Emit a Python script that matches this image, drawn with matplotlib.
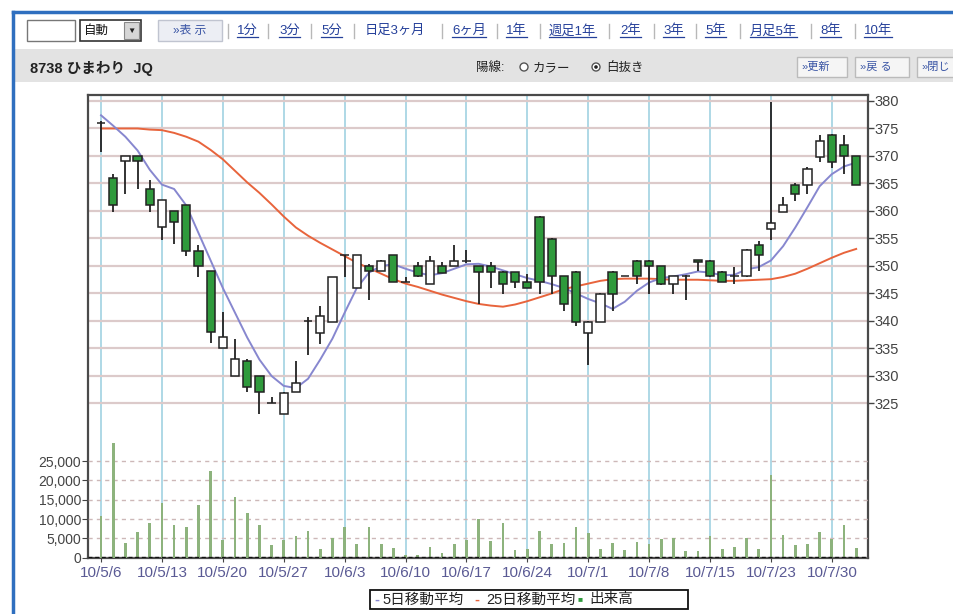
import matplotlib
matplotlib.use("Agg")
import matplotlib.pyplot as plt
from matplotlib.patches import Rectangle, Circle
from matplotlib.ticker import FuncFormatter
import numpy as np

plt.rcParams["font.family"] = ["Liberation Sans", "Noto Sans CJK JP", "DejaVu Sans"]
NARROW = ["Liberation Sans Narrow", "Liberation Sans", "DejaVu Sans"]

# x tick labels, one every 5 trading days
date_labels = ["10/5/6", "10/5/13", "10/5/20", "10/5/27", "10/6/3", "10/6/10", "10/6/17",
               "10/6/24", "10/7/1", "10/7/8", "10/7/15", "10/7/23", "10/7/30"]

# daily candles (8738 ひまわり)
opens = [376, 366, 369, 370, 364, 357, 360, 361, 352.8, 349, 335, 330, 332.8, 330, 325, 323.1,
         327, 340, 337.9, 339.8, 352, 346, 350, 349, 352, 347, 350, 346.8, 350, 350, 350.9, 350,
         350, 348.9, 348.9, 347, 358.9, 354.9, 348.1, 348.9, 337.9, 339.8, 348.9, 348.1, 350.9,
         350.9, 350, 346.8, 348.1, 351, 350.9, 348.9, 348.1, 348.1, 353.9, 356.8, 359.8, 364.8,
         364.8, 369.8, 373.9, 372, 370]
highs = [376.3, 366.8, 370, 370, 365.6, 362, 360, 361, 353.8, 349, 341.7, 336.8, 333, 330, 326.2,
         327, 332.8, 340.8, 342.8, 348, 352, 352, 350.3, 351, 352, 348, 350.7, 351.8, 350.7, 353.8,
         352.9, 350, 350.7, 349, 348.9, 348.6, 359, 355, 348.1, 349, 340, 345, 349, 348.1, 351,
         351, 350, 348.1, 348.3, 351, 351, 349, 349.8, 353, 354.6, 379.9, 362.6, 365, 368, 373.8,
         374, 373.8, 370]
lows = [370.8, 359.8, 363, 364, 359.8, 354.7, 354, 351.8, 348, 336, 335, 330, 327, 323.1, 325,
        323.1, 327, 333.9, 335.9, 339.8, 348, 346, 343.8, 349, 347, 347, 348, 346.8, 348.8, 350,
        350.5, 343, 346, 344.9, 346, 346, 344.9, 344.9, 341.8, 339, 332, 339.8, 341.8, 348.1,
        346.8, 344.9, 346.5, 344.9, 343.8, 349, 348, 347, 346.8, 348, 349, 354.7, 359.8, 361.8,
        363, 368.9, 367.8, 366.8, 364.8]
closes = [376, 361, 370, 369, 361, 362, 358, 352.8, 350, 338, 337, 333, 328, 327.1, 325, 326.9,
          328.8, 340, 340.9, 348, 352, 352, 349, 350.9, 347, 347, 348.1, 350.9, 348.8, 350.9,
          350.9, 348.9, 348.9, 346.8, 347, 346, 347, 348.1, 343, 339.8, 339.8, 344.9, 344.9,
          348.1, 348.1, 350, 346.8, 348.1, 348.1, 350.8, 348.1, 347, 348.1, 352.9, 352, 357.9,
          361.1, 363, 367.7, 372.7, 368.9, 370, 364.8]

# moving averages as drawn on the chart
ma5 = [377.4, 375.5, 373.5, 371.0, 367.5, 364.8, 364.0, 361.0, 356.0, 351.0, 346.0, 341.5, 337.0,
       333.0, 330.0, 328.2, 327.8, 329.5, 333.0, 336.8, 341.5, 346.0, 348.8, 350.0, 350.3, 349.5,
       348.8, 348.3, 348.7, 349.5, 350.3, 350.4, 349.9, 349.2, 348.5, 347.8, 347.3, 346.7, 346.0,
       345.0, 344.0, 343.2, 342.2, 343.5, 345.5, 347.0, 347.8, 348.1, 348.5, 349.0, 348.8, 348.3,
       348.4, 349.4, 349.8, 351.0, 353.6, 357.0, 360.7, 364.5, 366.7, 368.1, 368.8]
ma25 = [375.0, 375.0, 375.0, 375.0, 374.8, 374.7, 374.2, 373.5, 372.6, 371.1, 369.4, 367.3, 365.2,
        363.3, 361.2, 359.0, 357.0, 355.5, 354.2, 353.0, 351.8, 350.6, 349.6, 348.6, 347.6, 346.8,
        346.2, 345.5, 344.8, 344.2, 343.6, 343.1, 342.8, 342.6, 343.0, 343.6, 344.3, 345.0, 345.8,
        346.3, 346.8, 347.3, 347.6, 347.7, 347.7, 347.7, 347.6, 347.5, 347.5, 347.5, 347.4, 347.3,
        347.3, 347.4, 347.5, 347.6, 348.0, 348.6, 349.5, 350.5, 351.5, 352.4, 353.1]

# 出来高
volume = [10800, 29700, 3900, 6600, 9100, 14100, 8600, 7900, 13600, 22500, 4600, 15800, 11700,
          8600, 3300, 4600, 5600, 7000, 2200, 5000, 8000, 3500, 8000, 3500, 2400, 700, 700, 2800,
          1100, 3500, 4700, 9900, 4300, 8900, 2000, 2200, 7000, 3500, 3900, 8000, 6500, 2200, 3700,
          2000, 4100, 3500, 4800, 5000, 1700, 1700, 5600, 2200, 2700, 5000, 2300, 21400, 5900,
          3300, 3500, 6700, 4800, 8500, 2600]

GREEN = "#2f9a3c"
BLUE_MA = "#8787cf"
RED_MA = "#e8643c"
LINK = "#25409a"

fig = plt.figure(figsize=(9.54, 6.14), dpi=100)

# pixel-space overlay for the page chrome
ui = fig.add_axes([0, 0, 1, 1])
ui.set_xlim(0, 954)
ui.set_ylim(614, 0)
ui.axis("off")

ui.plot([13, 13], [12, 614], color="#2f6fbf", lw=2.5)
ui.plot([13, 954], [12, 12], color="#2f6fbf", lw=2.5)
ui.add_patch(Rectangle((15, 49), 939, 33, fc="#e3e3e3", ec="none"))

# toolbar row 1
ui.add_patch(Rectangle((27, 20), 48, 21, fc="white", ec="#777777", lw=1))
ui.add_patch(Rectangle((80, 20), 61, 21, fc="white", ec="#333333", lw=1.2))
ui.text(84, 31, "自動", fontsize=9, va="center", color="#111111")
ui.add_patch(Rectangle((124, 22), 15, 17, fc="#d6d6d6", ec="#888888", lw=0.8))
ui.text(131.5, 31, "▼", fontsize=6, ha="center", va="center", color="#222222")
ui.add_patch(Rectangle((158, 20), 64, 21, fc="#eceef4", ec="#c0c4d0", lw=1))
ui.text(190, 31, "»表 示", fontsize=8.5, ha="center", va="center", color="#3a55a5")

links = [("1分", 237, True), ("3分", 279, True), ("5分", 321, True), ("日足3ヶ月", 365, False),
         ("6ヶ月", 452, True), ("1年", 506, True), ("週足1年", 549, True), ("2年", 620, True),
         ("3年", 663, True), ("5年", 705, True), ("月足5年", 750, True), ("8年", 820, True),
         ("10年", 864, True)]
seps = [228, 268, 311, 354, 442, 497, 540, 609, 654, 696, 740, 811, 855]
link_texts = []
for label, lx, ul in links:
    t = ui.text(lx, 31, label, fontsize=9.5, va="center", color=LINK)
    link_texts.append((t, ul))
for sx in seps:
    ui.plot([sx, sx], [24, 38], color="#b8b8b8", lw=1)

# toolbar row 2
ui.text(30, 68, "8738 ひまわり  JQ", fontsize=10.5, fontweight="bold", va="center", color="#222222")
ui.text(476, 68, "陽線:", fontsize=9, va="center", color="#222222")
ui.add_patch(Circle((524, 67), 4, fc="white", ec="#555555", lw=1))
ui.text(533, 68, "カラー", fontsize=9, va="center", color="#222222")
ui.add_patch(Circle((596, 67), 4, fc="white", ec="#555555", lw=1))
ui.add_patch(Circle((596, 67), 1.8, fc="#222222", ec="none"))
ui.text(606, 68, "白抜き", fontsize=9, va="center", color="#222222")
for label, bx, bw in [("»更新", 797, 50), ("»戻 る", 855, 54), ("»閉じ", 917, 45)]:
    ui.add_patch(Rectangle((bx, 57), bw, 20, fc="#f5f5f5", ec="#bbbbbb", lw=1))
    ui.text(bx + 5, 67, label, fontsize=8, va="center", color="#3a55a5")

# legend box
ui.add_patch(Rectangle((370, 590), 318, 19, fc="white", ec="#111111", lw=1.3))
ui.text(374, 599.5, "-", fontsize=10.5, va="center", color=BLUE_MA, fontweight="bold")
ui.text(382, 599.5, "5日移動平均", fontsize=10.5, va="center", color="#222222")
ui.text(474, 599.5, "-", fontsize=10.5, va="center", color=RED_MA, fontweight="bold")
ui.text(486, 599.5, "25日移動平均", fontsize=10.5, va="center", color="#222222")
ui.text(578, 599.5, "■", fontsize=6, va="center", color=GREEN)
ui.text(589, 599.5, "出来高", fontsize=10.5, va="center", color="#222222")

# chart
x = np.arange(len(opens))
o = np.array(opens)
c = np.array(closes)
ax = fig.add_axes([88 / 954, 56.3 / 614, 780 / 954, 462.7 / 614])
ax.set_xlim(-1.07, 62.97)
ax.set_ylim(296.96, 381.09)

ax.plot(x, ma25, color=RED_MA, lw=1.4, zorder=2.5)
ax.plot(x, ma5, color=BLUE_MA, lw=1.4, zorder=2.5)
ax.vlines(x, lows, highs, color="#222222", lw=1.3, zorder=3)
body_colors = np.where(c > o, "white", GREEN)
ax.bar(x, np.abs(c - o), bottom=np.minimum(o, c), width=0.68, color=body_colors,
       edgecolor="#222222", linewidth=1.1, zorder=4)

ax.set_xticks(x[::5])
ax.set_xticklabels(date_labels)
ax.grid(axis="x", color="#a8d5e4", lw=1.3)
ax.grid(axis="y", color="#dccaca", lw=1.6)
ax.set_axisbelow(True)
for sp in ax.spines.values():
    sp.set_color("#4a4a4a")
    sp.set_linewidth(1.6)

# volume panel shares the frame, its scale sits on the left
ax2 = ax.twinx()
ax2.bar(x, volume, width=0.22, color="#8db37d", zorder=3)
ax2.set_ylim(0, 119870)
ax2.yaxis.tick_left()
ax2.set_yticks(np.arange(0, 25001, 5000))
ax2.yaxis.set_major_formatter(FuncFormatter(lambda v, p: f"{int(v):,}"))
ax2.tick_params(axis="y", direction="out", length=4, colors="#444444", labelsize=10, pad=1)
ax2.grid(axis="y", color="#cdb8b8", lw=1, ls=(0, (3, 3)))
ax2.axhline(0, color="#111111", lw=2.4, ls=(0, (1.2, 0.8)), zorder=4)
for sp in ax2.spines.values():
    sp.set_visible(False)

# twinx moved the price ticks to the left, put them back on the right
ax.set_yticks(np.arange(325, 381, 5))
ax.yaxis.tick_right()
ax.tick_params(axis="y", direction="out", length=4, width=1, colors="#444444",
               labelsize=10.5, pad=1)
ax.tick_params(axis="x", length=3, colors="#444444", labelcolor="#5a5a94",
               labelsize=11, pad=3)
for lbl in ax.get_xticklabels() + ax.get_yticklabels() + ax2.get_yticklabels():
    lbl.set_fontfamily(NARROW)

# underline the links
fig.canvas.draw()
inv = ui.transData.inverted()
for t, ul in link_texts:
    if not ul:
        continue
    bb = t.get_window_extent()
    (x0, y0), (x1, y1) = inv.transform([[bb.x0, bb.y0], [bb.x1, bb.y1]])
    ui.plot([x0, x1], [y0 - 0.5, y0 - 0.5], color=LINK, lw=0.9)

fig.savefig("out.png", dpi=100)
